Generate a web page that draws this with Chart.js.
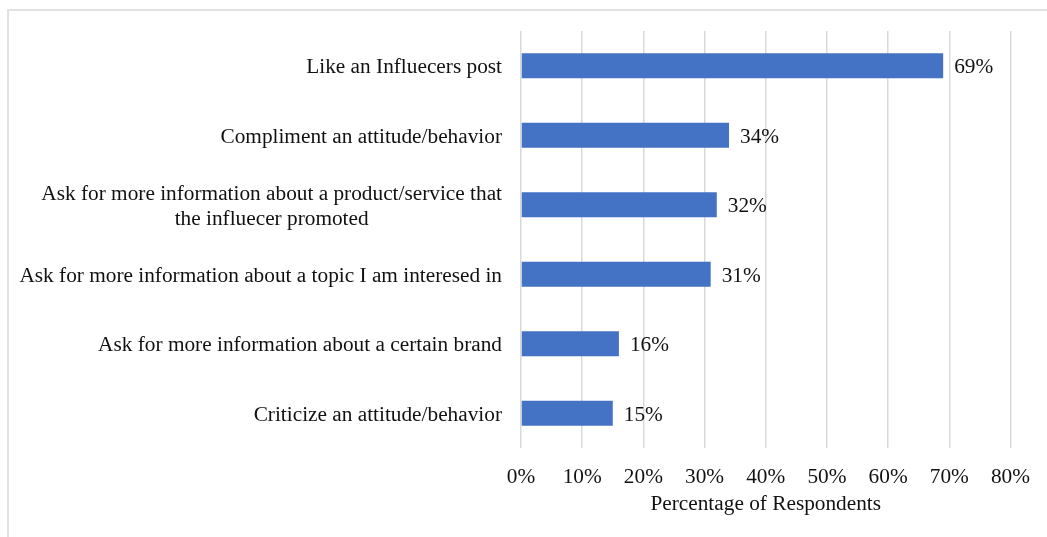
<!DOCTYPE html>
<html>
<head>
<meta charset="utf-8">
<script src="https://cdn.jsdelivr.net/npm/chart.js@4/dist/chart.umd.min.js"></script>
<style>
  html, body { margin: 0; padding: 0; background: #fff; }
  #wrap { position: relative; width: 1047px; height: 537px; overflow: hidden; }
  #frame { position: absolute; left: 7px; top: 9px; right: -5px; bottom: -5px;
           border-left: 2px solid #e2e2e2; border-top: 2px solid #e2e2e2; pointer-events: none; }
  canvas { position: absolute; left: 0; top: 0; }
</style>
</head>
<body>
<div id="wrap">
  <canvas id="c" width="1047" height="537"></canvas>
  <div id="frame"></div>
</div>
<script>
const categories = [
  ["Like an Influecers post"],
  ["Compliment an attitude/behavior"],
  ["Ask for more information about a product/service that", "the influecer promoted"],
  ["Ask for more information about a topic I am interesed in"],
  ["Ask for more information about a certain brand"],
  ["Criticize an attitude/behavior"]
];
const values = [69, 34, 32, 31, 16, 15];
const xTicks = [0, 10, 20, 30, 40, 50, 60, 70, 80];
const xTitle = "Percentage of Respondents";

const FONT = "'Liberation Serif', 'Times New Roman', serif";
const FS = 21.3;
const TEXT = '#111';

const yLabelPlugin = {
  id: 'yLabels',
  afterDraw(chart) {
    const ctx = chart.ctx;
    const y = chart.scales.y;
    const right = chart.chartArea.left - 19;
    const lh = 25;
    ctx.save();
    ctx.font = FS + "px " + FONT;
    ctx.fillStyle = TEXT;
    ctx.textBaseline = 'middle';
    categories.forEach((lines, i) => {
      const cy = y.getPixelForTick(i) + 2;
      const maxW = Math.max(...lines.map(l => ctx.measureText(l).width));
      const startY = cy - (lines.length - 1) * lh / 2;
      lines.forEach((line, j) => {
        if (lines.length === 1) {
          ctx.textAlign = 'right';
          ctx.fillText(line, right, startY + j * lh);
        } else {
          ctx.textAlign = 'center';
          ctx.fillText(line, right - maxW / 2, startY + j * lh);
        }
      });
    });
    ctx.restore();
  }
};

const valueLabelPlugin = {
  id: 'valueLabels',
  afterDatasetsDraw(chart) {
    const ctx = chart.ctx;
    const meta = chart.getDatasetMeta(0);
    ctx.save();
    ctx.font = FS + "px " + FONT;
    ctx.fillStyle = TEXT;
    ctx.textAlign = 'left';
    ctx.textBaseline = 'middle';
    meta.data.forEach((bar, i) => {
      ctx.fillText(values[i] + '%', bar.x + 11, bar.y + 2);
    });
    ctx.restore();
  }
};

new Chart(document.getElementById('c'), {
  type: 'bar',
  data: {
    labels: categories.map(c => c.join(' ')),
    datasets: [{
      data: values,
      backgroundColor: '#4472C4',
      borderWidth: 0,
      barPercentage: 0.6,
      categoryPercentage: 0.6
    }]
  },
  options: {
    indexAxis: 'y',
    responsive: false,
    animation: false,
    devicePixelRatio: 1,
    layout: { padding: { top: 31, right: 32, bottom: 0, left: 0 } },
    plugins: { legend: { display: false }, tooltip: { enabled: false } },
    scales: {
      x: {
        min: 0, max: 80,
        afterBuildTicks(scale) { scale.ticks = xTicks.map(v => ({ value: v })); },
        afterFit(scale) { scale.height = 89; },
        ticks: {
          stepSize: 10,
          padding: 17,
          color: TEXT,
          font: { family: FONT, size: FS },
          callback: v => v + '%'
        },
        grid: { color: '#d9d9d9', lineWidth: 1.5, drawTicks: false },
        border: { display: false },
        title: {
          display: true,
          text: xTitle,
          color: TEXT,
          font: { family: FONT, size: FS },
          padding: { top: 0, bottom: 20 }
        }
      },
      y: {
        afterFit(scale) { scale.width = 521; },
        ticks: { display: false },
        grid: { display: false, drawTicks: false },
        border: { display: false }
      }
    }
  },
  plugins: [yLabelPlugin, valueLabelPlugin]
});
</script>
</body>
</html>
